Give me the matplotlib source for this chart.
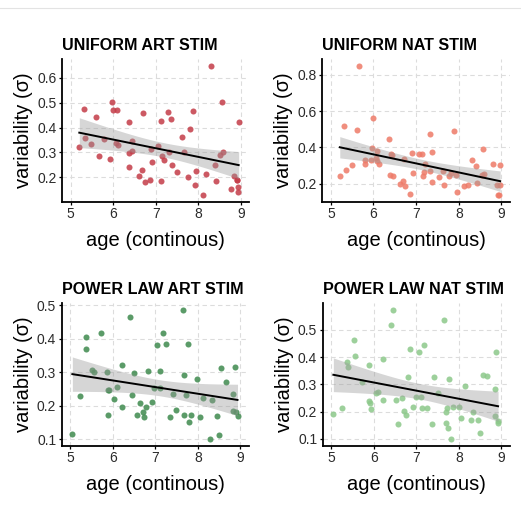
import numpy as np
import matplotlib
matplotlib.use("Agg")
import matplotlib.pyplot as plt
from matplotlib.lines import Line2D

plt.rcParams['font.family'] = ['Liberation Sans', 'DejaVu Sans']

# ---------------- data ----------------
titles = ["UNIFORM ART STIM", "UNIFORM NAT STIM", "POWER LAW ART STIM", "POWER LAW NAT STIM"]
colors = ["#C43C48", "#EE7A68", "#3E8A4E", "#8CC88A"]

uni_art_age = [5.20, 5.31, 5.34, 5.48, 5.59, 5.66, 5.79, 5.93, 5.97, 6.00, 6.08, 6.07, 6.10,
               6.38, 6.36, 6.38, 6.43, 6.45, 6.60, 6.67, 6.71, 6.74, 6.86, 6.88, 6.92, 7.05,
               7.13, 7.13, 7.15, 7.19, 7.29, 7.31, 7.35, 7.37, 7.51, 7.62, 7.66, 7.75, 7.80,
               7.88, 7.92, 7.95, 8.10, 8.19, 8.29, 8.39, 8.42, 8.51, 8.55, 8.58, 8.78, 8.84,
               8.90, 8.92, 8.93, 8.94, 8.95]
uni_art_var = [0.320, 0.476, 0.359, 0.335, 0.442, 0.287, 0.354, 0.274, 0.502, 0.470, 0.469, 0.336, 0.330,
               0.422, 0.298, 0.243, 0.347, 0.304, 0.207, 0.229, 0.459, 0.181, 0.188, 0.314, 0.260, 0.324,
               0.187, 0.427, 0.287, 0.270, 0.464, 0.302, 0.433, 0.249, 0.220, 0.363, 0.300, 0.200, 0.395,
               0.465, 0.171, 0.224, 0.128, 0.212, 0.648, 0.249, 0.185, 0.291, 0.501, 0.303, 0.155, 0.205,
               0.188, 0.188, 0.142, 0.161, 0.422]

uni_nat_age = [5.21, 5.32, 5.35, 5.50, 5.61, 5.67, 5.79, 5.81, 5.94, 5.97, 6.00, 6.06, 6.08, 6.09,
               6.12, 6.37, 6.38, 6.41, 6.44, 6.46, 6.61, 6.69, 6.72, 6.74, 6.86, 6.90, 6.93, 7.07,
               7.14, 7.15, 7.18, 7.20, 7.32, 7.33, 7.36, 7.38, 7.53, 7.64, 7.66, 7.77, 7.81, 7.89,
               7.94, 7.96, 8.12, 8.21, 8.30, 8.41, 8.43, 8.56, 8.54, 8.59, 8.79, 8.89, 8.91, 8.94,
               8.96, 8.97]
uni_nat_var = [0.241, 0.521, 0.278, 0.303, 0.499, 0.850, 0.307, 0.333, 0.329, 0.396, 0.562, 0.340, 0.381, 0.324,
               0.307, 0.446, 0.250, 0.362, 0.359, 0.244, 0.198, 0.213, 0.335, 0.187, 0.143, 0.372, 0.259, 0.366,
               0.364, 0.244, 0.266, 0.311, 0.270, 0.475, 0.377, 0.209, 0.239, 0.273, 0.196, 0.244, 0.257, 0.490,
               0.246, 0.154, 0.190, 0.194, 0.331, 0.300, 0.207, 0.390, 0.250, 0.255, 0.307, 0.196, 0.137, 0.137,
               0.302, 0.196]

pow_art_age = [5.05, 5.24, 5.37, 5.38, 5.52, 5.56, 5.73, 5.87, 5.88, 5.89, 5.92, 6.04, 6.10, 6.21,
               6.21, 6.40, 6.44, 6.51, 6.56, 6.64, 6.71, 6.73, 6.78, 6.82, 6.91, 6.98, 7.05, 7.11,
               7.12, 7.17, 7.25, 7.35, 7.42, 7.49, 7.64, 7.68, 7.68, 7.71, 7.76, 7.79, 7.83, 7.99,
               8.04, 8.13, 8.28, 8.33, 8.45, 8.49, 8.55, 8.65, 8.82, 8.83, 8.87, 8.90, 8.93]
pow_art_var = [0.115, 0.228, 0.406, 0.369, 0.308, 0.300, 0.419, 0.300, 0.248, 0.172, 0.247, 0.221, 0.257, 0.323,
               0.197, 0.466, 0.232, 0.298, 0.172, 0.207, 0.181, 0.167, 0.196, 0.305, 0.211, 0.254, 0.381, 0.305,
               0.253, 0.419, 0.386, 0.167, 0.236, 0.188, 0.487, 0.291, 0.172, 0.231, 0.386, 0.152, 0.171, 0.279,
               0.167, 0.224, 0.100, 0.216, 0.168, 0.114, 0.312, 0.271, 0.234, 0.183, 0.316, 0.181, 0.169]

pow_nat_age = [5.05, 5.25, 5.38, 5.40, 5.53, 5.56, 5.73, 5.89, 5.89, 5.90, 5.93, 6.05, 6.11, 6.22,
               6.22, 6.41, 6.45, 6.53, 6.58, 6.67, 6.72, 6.75, 6.81, 6.84, 6.92, 7.00, 7.06, 7.11,
               7.13, 7.18, 7.26, 7.37, 7.42, 7.50, 7.64, 7.70, 7.70, 7.73, 7.74, 7.77, 7.81, 7.85,
               8.00, 8.04, 8.15, 8.29, 8.33, 8.46, 8.50, 8.56, 8.65, 8.84, 8.85, 8.88, 8.91, 8.92]
pow_nat_var = [0.192, 0.214, 0.380, 0.362, 0.463, 0.402, 0.310, 0.372, 0.239, 0.233, 0.209, 0.268, 0.272, 0.394,
               0.241, 0.518, 0.573, 0.242, 0.156, 0.249, 0.204, 0.186, 0.326, 0.430, 0.216, 0.255, 0.418, 0.255,
               0.213, 0.443, 0.213, 0.153, 0.328, 0.268, 0.534, 0.198, 0.160, 0.214, 0.139, 0.320, 0.099, 0.216,
               0.217, 0.176, 0.293, 0.171, 0.199, 0.171, 0.120, 0.336, 0.330, 0.282, 0.183, 0.418, 0.164, 0.159]

x_ticks = [5, 6, 7, 8, 9]
y_ticks = [[0.2, 0.3, 0.4, 0.5, 0.6],
           [0.2, 0.4, 0.6, 0.8],
           [0.1, 0.2, 0.3, 0.4, 0.5],
           [0.1, 0.2, 0.3, 0.4, 0.5]]
xlabel = "age (continous)"
ylabel = "variability (σ)"

panels = [(uni_art_age, uni_art_var), (uni_nat_age, uni_nat_var),
          (pow_art_age, pow_art_var), (pow_nat_age, pow_nat_var)]

# ---------------- layout (pixels) ----------------
W, H = 521, 512
fig = plt.figure(figsize=(W / 100, H / 100), dpi=100)
boxes = [(62.3, 59.3, 249.3, 201.7), (322.3, 59.3, 510.0, 201.7),
         (61.7, 303.3, 249.0, 445.7), (322.7, 303.3, 510.0, 445.7)]

fig.add_artist(Line2D([0, 1], [1 - 8 / H, 1 - 8 / H], color="#e3e3e3", lw=0.8))

for i, ((x, y), (l, t, r, b)) in enumerate(zip(panels, boxes)):
    ax = fig.add_axes([l / W, 1 - b / H, (r - l) / W, (b - t) / H])
    x = np.asarray(x)
    y = np.asarray(y)
    ax.scatter(x, y, s=19, color=colors[i], alpha=0.85, linewidths=0, zorder=3)

    # linear fit with 95% CI
    n = len(x)
    slope, inter = np.polyfit(x, y, 1)
    xs = np.linspace(x.min(), x.max(), 100)
    ys = slope * xs + inter
    resid = y - (slope * x + inter)
    s_err = np.sqrt(np.sum(resid ** 2) / (n - 2))
    tval = 2.005
    se = s_err * np.sqrt(1 / n + (xs - x.mean()) ** 2 / np.sum((x - x.mean()) ** 2))
    ax.fill_between(xs, ys - tval * se, ys + tval * se, color="#999999", alpha=0.4,
                    linewidth=0, zorder=4)
    ax.plot(xs, ys, color="black", lw=1.4, zorder=5)

    yr = y.max() - y.min()
    ax.set_ylim(y.min() - 0.05 * yr, y.max() + 0.05 * yr)
    ax.set_xlim(4.8, 9.2)
    ax.set_xticks(x_ticks)
    ax.set_yticks(y_ticks[i])
    ax.set_yticklabels([f"{v:.1f}" for v in y_ticks[i]])

    ax.grid(True, color="#dcdcdc", linestyle=(0, (4, 3)), linewidth=0.8, zorder=0)
    ax.set_axisbelow(True)
    for sp in ["top", "right"]:
        ax.spines[sp].set_visible(False)
    for sp in ["left", "bottom"]:
        ax.spines[sp].set_linewidth(1.3)
        ax.spines[sp].set_color("black")
    ax.tick_params(axis="both", length=2.5, width=0.9, color="black",
                   labelsize=10, labelcolor="#2b2b2b", pad=1.5)

    ax.set_title(titles[i], loc="left", fontsize=11.6, fontweight="bold", pad=6.5)
    ax.set_xlabel(xlabel, fontsize=14.5, labelpad=7)
    ax.set_ylabel(ylabel, fontsize=14.5, labelpad=3)

fig.savefig("out.png", dpi=100, facecolor="white")
